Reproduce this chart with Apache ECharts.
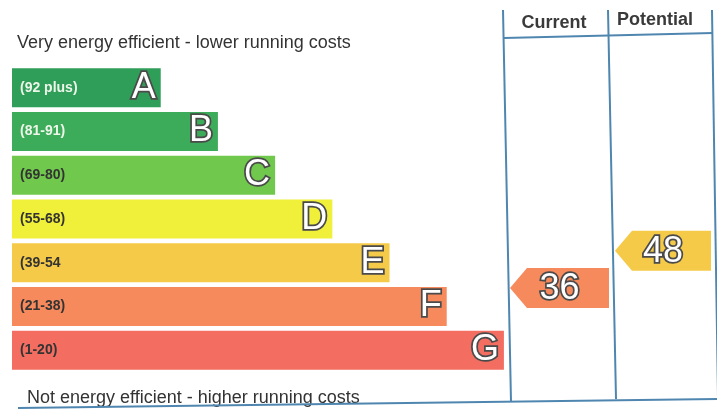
<!DOCTYPE html>
<html>
<head>
<meta charset="utf-8">
<script src="https://cdn.jsdelivr.net/npm/echarts@6/dist/echarts.min.js"></script>
<style>
html,body{margin:0;padding:0;background:#fff;}
#main{width:717px;height:412px;}
</style>
</head>
<body>
<div id="main"></div>
<script>
// ---- data ----
var bandLetters = ['A', 'B', 'C', 'D', 'E', 'F', 'G'];
var bandRanges = ['(92 plus)', '(81-91)', '(69-80)', '(55-68)', '(39-54', '(21-38)', '(1-20)'];
var bandLengths = [26, 36, 46, 56, 66, 76, 86];
var bandColors = ['#2f9e58', '#3dac5a', '#70c94c', '#f0ef3a', '#f5ca48', '#f68a5c', '#f36d61'];
var columnNames = ['Current', 'Potential'];
var ratingScores = [36, 48];
var ratingColors = ['#f68a5c', '#f5ca48'];
var topText = 'Very energy efficient - lower running costs';
var bottomText = 'Not energy efficient - higher running costs';

var FONT = 'Liberation Sans, Arial, sans-serif';
var LINE = '#4f86b0';
var OUTLINE = '#4a4a4a';

var chart = echarts.init(document.getElementById('main'), null, {renderer: 'canvas'});

function arrowSeries(idx) {
  return {
    type: 'custom',
    xAxisIndex: idx + 1,
    yAxisIndex: idx + 1,
    data: [[0, ratingScores[idx]]],
    renderItem: function (params, api) {
      var cs = params.coordSys;
      var c = api.coord([0, api.value(1)]);
      var cy = c[1];
      var h = 40;
      var tip = cs.x + 3;
      var right = cs.x + cs.width - 3;
      var notch = 17;
      return {
        type: 'group',
        children: [{
          type: 'polygon',
          shape: {points: [[tip, cy], [tip + notch, cy - h / 2], [right, cy - h / 2], [right, cy + h / 2], [tip + notch, cy + h / 2]]},
          style: {fill: ratingColors[idx]}
        }, {
          type: 'text',
          x: (tip + right) / 2,
          y: cy + 1,
          style: {
            text: String(api.value(1)),
            fill: '#fff',
            stroke: OUTLINE,
            lineWidth: 3.5,
            font: '36px ' + FONT,
            align: 'center',
            verticalAlign: 'middle'
          }
        }]
      };
    }
  };
}

var option = {
  animation: false,
  backgroundColor: '#fff',
  grid: [
    {left: 12, top: 66, width: 572, height: 306},
    {left: 507, top: 36, width: 105, height: 364},
    {left: 612, top: 36, width: 102, height: 364}
  ],
  xAxis: [
    {gridIndex: 0, type: 'value', min: 0, max: 100, show: false},
    {gridIndex: 1, type: 'value', min: 0, max: 1, show: false},
    {gridIndex: 2, type: 'value', min: 0, max: 1, show: false}
  ],
  yAxis: [
    {gridIndex: 0, type: 'category', data: bandLetters, inverse: true, show: false},
    {gridIndex: 1, type: 'value', min: 0, max: 117, show: false},
    {gridIndex: 2, type: 'value', min: 0, max: 117, show: false}
  ],
  graphic: [
    {type: 'text', x: 17, y: 43, style: {text: topText, font: '18px ' + FONT, fill: '#333', verticalAlign: 'middle'}},
    {type: 'text', x: 27, y: 398, style: {text: bottomText, font: '18px ' + FONT, fill: '#333', verticalAlign: 'middle'}},
    {type: 'text', x: 554, y: 23, style: {text: columnNames[0], font: 'bold 18px ' + FONT, fill: '#3a3a3a', align: 'center', verticalAlign: 'middle'}},
    {type: 'text', x: 655, y: 20, style: {text: columnNames[1], font: 'bold 18px ' + FONT, fill: '#3a3a3a', align: 'center', verticalAlign: 'middle'}},
    {type: 'line', shape: {x1: 503, y1: 10, x2: 511, y2: 402}, style: {stroke: LINE, lineWidth: 2}},
    {type: 'line', shape: {x1: 608, y1: 10, x2: 616, y2: 399}, style: {stroke: LINE, lineWidth: 2}},
    {type: 'line', shape: {x1: 712, y1: 10, x2: 718, y2: 397}, style: {stroke: LINE, lineWidth: 2}},
    {type: 'line', shape: {x1: 504, y1: 38, x2: 713, y2: 33}, style: {stroke: LINE, lineWidth: 2}},
    {type: 'line', shape: {x1: 18, y1: 408, x2: 717, y2: 399}, style: {stroke: LINE, lineWidth: 2}}
  ],
  series: [
    {
      type: 'bar',
      xAxisIndex: 0, yAxisIndex: 0,
      barWidth: 39,
      barGap: '-100%',
      data: bandLengths.map(function (v, i) {
        return {
          value: v,
          itemStyle: {color: bandColors[i]},
          label: {color: i < 2 ? '#eef6ea' : '#333'}
        };
      }),
      label: {
        show: true,
        position: 'insideLeft',
        distance: 8,
        fontFamily: FONT,
        fontWeight: 'bold',
        fontSize: 14,
        formatter: function (p) { return bandRanges[p.dataIndex]; }
      }
    },
    {
      type: 'bar',
      xAxisIndex: 0, yAxisIndex: 0,
      barWidth: 39,
      barGap: '-100%',
      data: bandLengths,
      itemStyle: {color: 'rgba(0,0,0,0)'},
      label: {
        show: true,
        position: 'insideRight',
        distance: 5,
        fontFamily: FONT,
        fontSize: 36,
        color: '#fff',
        textBorderColor: OUTLINE,
        textBorderWidth: 3.5,
        formatter: function (p) { return bandLetters[p.dataIndex]; }
      }
    },
    arrowSeries(0),
    arrowSeries(1)
  ]
};
chart.setOption(option);
</script>
</body>
</html>
